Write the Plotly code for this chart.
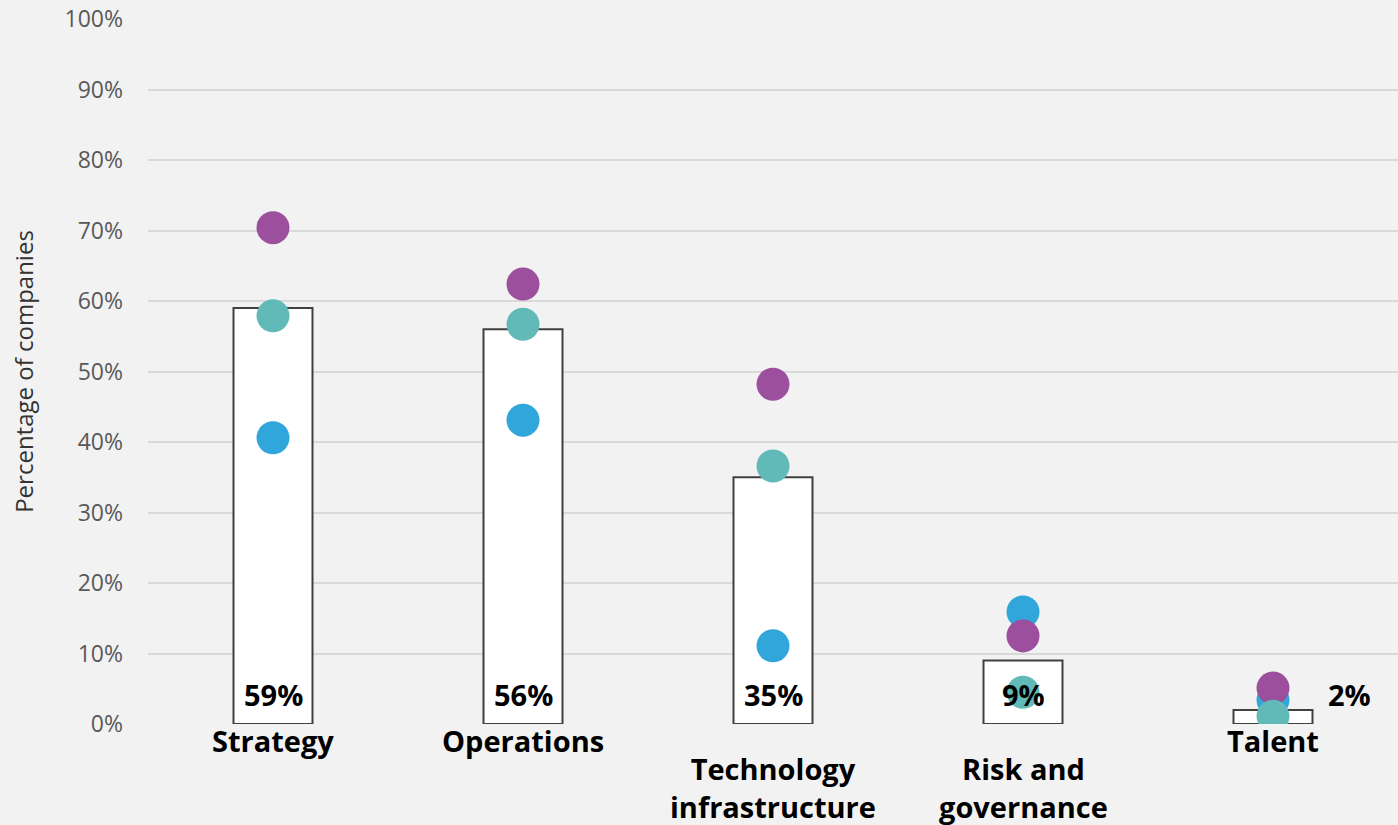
import plotly.graph_objects as go

categories = ["Strategy", "Operations", "Technology<br>infrastructure", "Risk and<br>governance", "Talent"]
overall = [59, 56, 35, 9, 2]
series_blue = [40.6, 43.1, 11.1, 15.9, 3.4]
series_purple = [70.4, 62.4, 48.2, 12.5, 5.1]
series_teal = [57.9, 56.7, 36.6, 4.5, 1.1]
y_ticks = list(range(0, 101, 10))
y_tick_labels = [f"{t}%" for t in y_ticks]

BLUE = "#31A6DB"
PURPLE = "#9C4F9D"
TEAL = "#61BAB7"
FONT = "Open Sans"

fig = go.Figure()

fig.add_trace(go.Bar(
    x=categories, y=overall, width=0.316,
    marker=dict(color="white", line=dict(color="#404040", width=2)),
    hoverinfo="skip", showlegend=False,
))

for vals, col in [(series_blue, BLUE), (series_purple, PURPLE), (series_teal, TEAL)]:
    fig.add_trace(go.Scatter(
        x=categories, y=vals, mode="markers",
        marker=dict(color=col, size=33, line=dict(width=0)),
        showlegend=False,
    ))

# value labels near the bottom of each bar; the smallest one sits beside its bar
for i, (cat, v) in enumerate(zip(categories, overall)):
    outside = i == len(categories) - 1
    fig.add_annotation(
        x=cat, y=0, text=f"<b>{v}%</b>", showarrow=False,
        yanchor="middle", yshift=30,
        xshift=76 if outside else 0,
        font=dict(family=FONT, size=29, color="black"),
    )

# category names below the axis; wrapped names start lower
for cat in categories:
    n_lines = cat.count("<br>") + 1
    fig.add_annotation(
        x=cat, y=0, text=f"<b>{cat}</b>", showarrow=False,
        yanchor="top", yshift=5 - 28 * (n_lines - 1),
        font=dict(family=FONT, size=29, color="black"),
    )

fig.update_layout(
    width=1398, height=825,
    margin=dict(l=148, r=0, t=19, b=101),
    paper_bgcolor="#F2F2F2", plot_bgcolor="#F2F2F2",
    font=dict(family=FONT, color="#595959"),
    bargap=0.684,
    xaxis=dict(
        tickmode="array", tickvals=categories, showticklabels=False,
        showgrid=False, zeroline=False, showline=False, ticks="",
    ),
    yaxis=dict(
        range=[0, 100], tickmode="array",
        tickvals=y_ticks, ticktext=y_tick_labels,
        tickfont=dict(family=FONT, size=23, color="#595959"),
        showgrid=True, gridcolor="#D9D9D9", gridwidth=2,
        zeroline=False, showline=False, ticks="",
        ticklabelstandoff=24,
        title=dict(text="Percentage of companies", standoff=24,
                   font=dict(family=FONT, size=24, color="#333333")),
    ),
)

fig.write_html("out.html")
